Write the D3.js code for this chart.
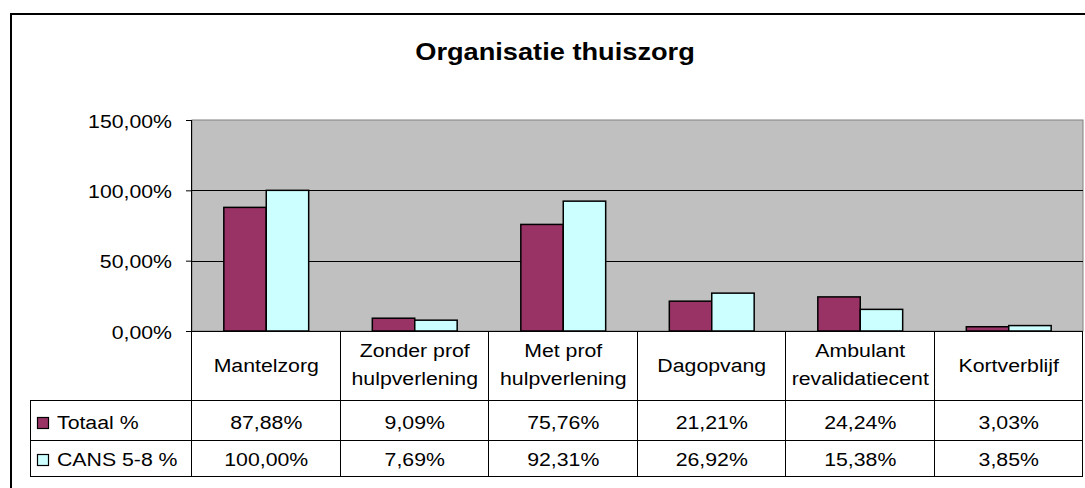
<!DOCTYPE html>
<html>
<head>
<meta charset="utf-8">
<script src="https://cdn.jsdelivr.net/npm/d3@7"></script>
<style>
  body { margin: 0; background: #fff; }
  svg { display: block; font-family: "Liberation Sans", Arial, sans-serif; }
</style>
</head>
<body>
<svg id="main" width="1085" height="488"></svg>
<script>
const categories = ["Mantelzorg", "Zonder prof hulpverlening", "Met prof hulpverlening", "Dagopvang", "Ambulant revalidatiecent", "Kortverblijf"];
const categoryLines = [["Mantelzorg"], ["Zonder prof", "hulpverlening"], ["Met prof", "hulpverlening"], ["Dagopvang"], ["Ambulant", "revalidatiecent"], ["Kortverblijf"]];
const seriesNames = ["Totaal %", "CANS 5-8 %"];
const totaal = [87.88, 9.09, 75.76, 21.21, 24.24, 3.03];
const cans = [100.00, 7.69, 92.31, 26.92, 15.38, 3.85];
const yTicks = [0, 0.5, 1, 1.5];
const seriesColors = ["#993366", "#CCFFFF"];

const series = [totaal, cans];

// text in the source is a bit wider than Arial, stretch it horizontally
const SX = 1.12;
const FS = 19;

const nl = d3.formatLocale({ decimal: ",", thousands: ".", grouping: [3], currency: ["", "€"] });
const pct = nl.format(".2%");

const svg = d3.select("#main");

// plot area bounds
const plotL = 192, plotR = 1083, plotT = 120, plotB = 331;
const tableLeft = 30;
const rowLines = [400, 440, 476];

const x = d3.scaleBand().domain(categories).range([plotL, plotR]);
const y = d3.scaleLinear().domain([0, 1.5]).range([plotB, plotT]);
const bw = x.bandwidth() / 3.5; // excel gap width 150%

function stretchedText(g, tx, ty, s, anchor) {
  return g.append("text")
    .attr("transform", `translate(${tx},${ty}) scale(${SX},1)`)
    .attr("text-anchor", anchor)
    .attr("font-size", FS)
    .attr("fill", "#000")
    .text(s);
}

// outer chart border
svg.append("rect")
  .attr("x", 11).attr("y", 14)
  .attr("width", 1100).attr("height", 500)
  .attr("fill", "#fff")
  .attr("stroke", "#000").attr("stroke-width", 2);

// title
svg.append("text")
  .attr("transform", `translate(555,60) scale(${SX},1)`)
  .attr("text-anchor", "middle")
  .attr("font-size", 24.3)
  .attr("font-weight", "bold")
  .text("Organisatie thuiszorg");

// plot area
svg.append("rect")
  .attr("x", plotL).attr("y", plotT)
  .attr("width", plotR - plotL).attr("height", plotB - plotT)
  .attr("fill", "#C0C0C0")
  .attr("stroke", "#808080").attr("stroke-width", 1);

// gridlines
svg.append("g")
  .selectAll("line")
  .data(yTicks.filter(d => d > 0 && d < 1.5))
  .enter()
  .append("line")
  .attr("x1", plotL).attr("x2", plotR)
  .attr("y1", d => Math.round(y(d)) + 0.5).attr("y2", d => Math.round(y(d)) + 0.5)
  .attr("stroke", "#000");

// bars
const groups = svg.append("g")
  .selectAll(".grp")
  .data(categories)
  .enter()
  .append("g")
  .attr("transform", d => `translate(${x(d)},0)`);

groups.selectAll("rect")
  .data((d, i) => series.map((s, j) => ({ v: s[i] / 100, j })))
  .enter()
  .append("rect")
  .attr("x", d => 0.75 * bw + d.j * bw)
  .attr("y", d => y(d.v))
  .attr("width", bw)
  .attr("height", d => y(0) - y(d.v))
  .attr("fill", d => seriesColors[d.j])
  .attr("stroke", "#000")
  .attr("stroke-width", 1.5);

// y axis
const yAxis = svg.append("g")
  .attr("transform", `translate(${plotL},0)`)
  .call(d3.axisLeft(y).tickValues(yTicks).tickFormat(pct).tickSize(6).tickPadding(0));
yAxis.select(".domain").attr("stroke", "#000").attr("d", `M-0.5,${plotT}V${plotB}`);
yAxis.selectAll(".tick line").attr("stroke", "#000");
yAxis.selectAll(".tick text")
  .attr("x", null).attr("dy", null)
  .attr("transform", `translate(-20,7) scale(${SX},1)`)
  .attr("font-size", FS)
  .attr("fill", "#000");
yAxis.attr("font-family", null);

// data table
const table = svg.append("g");

// horizontal lines
table.append("line")
  .attr("x1", plotL).attr("x2", plotR)
  .attr("y1", plotB + 0.5).attr("y2", plotB + 0.5)
  .attr("stroke", "#000");
table.selectAll(".hl")
  .data(rowLines)
  .enter()
  .append("line")
  .attr("x1", tableLeft).attr("x2", plotR)
  .attr("y1", d => d + 0.5).attr("y2", d => d + 0.5)
  .attr("stroke", "#000");

// vertical lines
const cuts = categories.map(c => x(c)).concat([plotR]);
table.selectAll(".vl")
  .data(cuts)
  .enter()
  .append("line")
  .attr("x1", d => Math.round(d) - 0.5).attr("x2", d => Math.round(d) - 0.5)
  .attr("y1", plotB).attr("y2", rowLines[2])
  .attr("stroke", "#000");
table.append("line")
  .attr("x1", tableLeft + 0.5).attr("x2", tableLeft + 0.5)
  .attr("y1", rowLines[0]).attr("y2", rowLines[2])
  .attr("stroke", "#000");

// category labels
categories.forEach((c, i) => {
  const cx = x(c) + x.bandwidth() / 2;
  const lines = categoryLines[i];
  const ys = lines.length === 1 ? [372] : [357, 385];
  lines.forEach((l, k) => stretchedText(table, cx, ys[k], l, "middle"));
});

// value rows and legend keys
const rowBase = [429, 466];
series.forEach((s, j) => {
  table.append("rect")
    .attr("x", 37.5).attr("y", rowBase[j] - 11.5)
    .attr("width", 11).attr("height", 11)
    .attr("fill", seriesColors[j])
    .attr("stroke", "#000").attr("stroke-width", 1.2);
  stretchedText(table, 57, rowBase[j], seriesNames[j], "start");
  s.forEach((v, i) => {
    stretchedText(table, x(categories[i]) + x.bandwidth() / 2, rowBase[j], pct(v / 100), "middle");
  });
});
</script>
</body>
</html>
